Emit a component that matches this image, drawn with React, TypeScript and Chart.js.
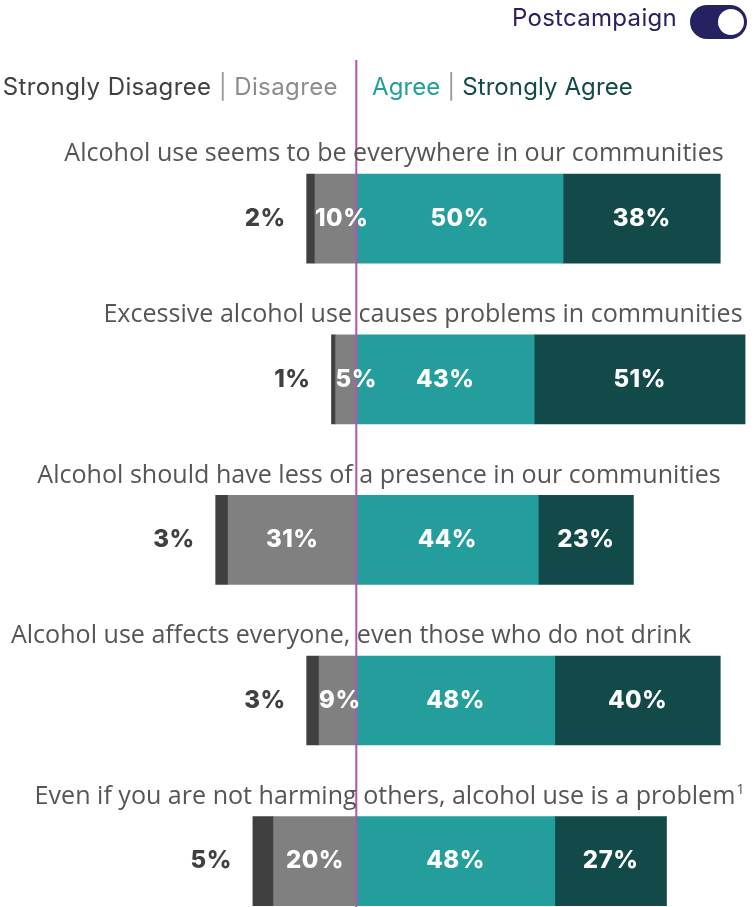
import React, { useEffect, useRef } from "react";
import { Chart, registerables } from "chart.js";

Chart.register(...registerables);

// ---------- data ----------
const categories = [
  "Alcohol use seems to be everywhere in our communities",
  "Excessive alcohol use causes problems in communities",
  "Alcohol should have less of a presence in our communities",
  "Alcohol use affects everyone, even those who do not drink",
  "Even if you are not harming others, alcohol use is a problem",
];
const footnotes = ["", "", "", "", "1"];
const stronglyDisagree = [2, 1, 3, 3, 5];
const disagree = [10, 5, 31, 9, 20];
const agree = [50, 43, 44, 48, 48];
const stronglyAgree = [38, 51, 23, 40, 27];

// ---------- layout / style ----------
const titleCenters = [394, 423, 379, 351, 385];
const TITLE_REF_WIDTH = 660; // width of the first title in the picture
const COLORS = {
  sd: "#404040",
  d: "#808080",
  a: "#239e9d",
  sa: "#124a4a",
  line: "#b454b0",
  title: "#555555",
};
const TITLE_FONT = "'Open Sans', Lato, sans-serif";
const VALUE_FONT = "Inter, Lato, sans-serif";

const overlayPlugin = {
  id: "overlay",
  afterDatasetsDraw(chart: any) {
    const ctx = chart.ctx as CanvasRenderingContext2D;
    const xs = chart.scales.x;
    const zero = xs.getPixelForValue(0);
    const mD = chart.getDatasetMeta(0);
    const mSD = chart.getDatasetMeta(1);
    const mA = chart.getDatasetMeta(2);
    const mSA = chart.getDatasetMeta(3);
    ctx.save();

    // center line
    ctx.strokeStyle = COLORS.line;
    ctx.lineWidth = 2;
    ctx.beginPath();
    ctx.moveTo(zero, 60);
    ctx.lineTo(zero, chart.height);
    ctx.stroke();

    ctx.textBaseline = "middle";
    ctx.font = `20px ${TITLE_FONT}`;
    const titleSize = (20 * TITLE_REF_WIDTH) / ctx.measureText(categories[0]).width;
    const valueFont = `800 24px ${VALUE_FONT}`;

    categories.forEach((cat, i) => {
      const sd = mSD.data[i].getProps(["x", "base", "y", "height"], true);
      const d = mD.data[i].getProps(["x", "base", "y", "height"], true);
      const a = mA.data[i].getProps(["x", "base", "y", "height"], true);
      const sa = mSA.data[i].getProps(["x", "base", "y", "height"], true);
      const cy = sd.y;
      const barTop = cy - sd.height / 2;

      // title
      ctx.font = `${titleSize}px ${TITLE_FONT}`;
      ctx.fillStyle = COLORS.title;
      ctx.textAlign = "center";
      ctx.fillText(cat, titleCenters[i], barTop - 20);
      if (footnotes[i]) {
        const w = ctx.measureText(cat).width;
        ctx.font = `14px ${TITLE_FONT}`;
        ctx.textAlign = "left";
        ctx.fillText(footnotes[i], titleCenters[i] + w / 2 + 1, barTop - 27);
      }

      ctx.font = valueFont;
      (ctx as any).letterSpacing = "0.5px";
      // strongly disagree label (outside, left)
      const sdLeft = Math.min(sd.x, sd.base);
      ctx.fillStyle = "#404040";
      ctx.textAlign = "right";
      ctx.fillText(`${stronglyDisagree[i]}%`, sdLeft - 21, cy);

      // disagree label
      ctx.fillStyle = "#ffffff";
      ctx.textAlign = "center";
      const dl = Math.min(d.x, d.base);
      const dr = Math.max(d.x, d.base);
      const dTxt = `${disagree[i]}%`;
      const dw = ctx.measureText(dTxt).width;
      ctx.fillText(dTxt, Math.max((dl + dr) / 2, dl + dw / 2), cy);

      // agree
      ctx.fillText(`${agree[i]}%`, (a.x + a.base) / 2, cy);
      // strongly agree
      ctx.fillText(`${stronglyAgree[i]}%`, (sa.x + sa.base) / 2, cy);
      (ctx as any).letterSpacing = "0px";
    });
    ctx.restore();
  },
};

export default function App() {
  const ref = useRef<HTMLCanvasElement>(null);
  useEffect(() => {
    if (!ref.current) return;
    const chart = new Chart(ref.current, {
      type: "bar",
      data: {
        labels: categories,
        datasets: [
          { label: "Disagree", data: disagree.map((v) => -v), backgroundColor: COLORS.d },
          { label: "Strongly Disagree", data: stronglyDisagree.map((v) => -v), backgroundColor: COLORS.sd },
          { label: "Agree", data: agree, backgroundColor: COLORS.a },
          { label: "Strongly Agree", data: stronglyAgree, backgroundColor: COLORS.sa },
        ],
      },
      options: {
        indexAxis: "y",
        animation: false,
        responsive: true,
        maintainAspectRatio: false,
        layout: { padding: { top: 138.4, bottom: 3.6, left: 0, right: 0 } },
        datasets: { bar: { barThickness: 89, borderWidth: 0 } },
        scales: {
          x: { stacked: true, min: -86.15, max: 96.4, display: false },
          y: { stacked: true, display: false },
        },
        plugins: {
          legend: { display: false },
          tooltip: { enabled: false },
        },
      },
      plugins: [overlayPlugin],
    });
    return () => chart.destroy();
  }, []);

  const legendFont: React.CSSProperties = {
    fontFamily: "Inter, Lato, sans-serif",
    fontSize: 24,
    lineHeight: "30px",
    whiteSpace: "nowrap",
  };

  return (
    <div
      style={{
        position: "fixed",
        left: 0,
        top: 0,
        width: 755,
        height: 907,
        overflow: "hidden",
        background: "#ffffff",
      }}
    >
      <div style={{ position: "absolute", left: 0, top: 0, width: 755, height: 945 }}>
        <canvas ref={ref} />
      </div>
      {/* toggle */}
      <div
        style={{
          ...legendFont,
          fontSize: 24,
          letterSpacing: "0.3px",
          position: "absolute",
          right: 755 - 677,
          top: 3,
          color: "#262262",
        }}
      >
        Postcampaign
      </div>
      <div
        style={{
          position: "absolute",
          left: 690,
          top: 5,
          width: 57,
          height: 34,
          borderRadius: 17,
          background: "#262262",
        }}
      >
        <div
          style={{
            position: "absolute",
            left: 28,
            top: 4,
            width: 26,
            height: 26,
            borderRadius: 13,
            background: "#ffffff",
          }}
        />
      </div>
      {/* legend */}
      <div
        style={{
          ...legendFont,
          letterSpacing: "0.4px",
          position: "absolute",
          left: 0,
          width: 338,
          top: 72,
          textAlign: "right",
        }}
      >
        <span style={{ color: "#404040" }}>Strongly Disagree</span>
        <span style={{ color: "#9a9a9a" }}> | </span>
        <span style={{ color: "#8c8c8c" }}>Disagree</span>
      </div>
      <div
        style={{
          ...legendFont,
          letterSpacing: "0.1px",
          position: "absolute",
          left: 372,
          top: 72,
        }}
      >
        <span style={{ color: "#239e9d" }}>Agree</span>
        <span style={{ color: "#9a9a9a" }}> | </span>
        <span style={{ color: "#124a4a" }}>Strongly Agree</span>
      </div>
    </div>
  );
}
